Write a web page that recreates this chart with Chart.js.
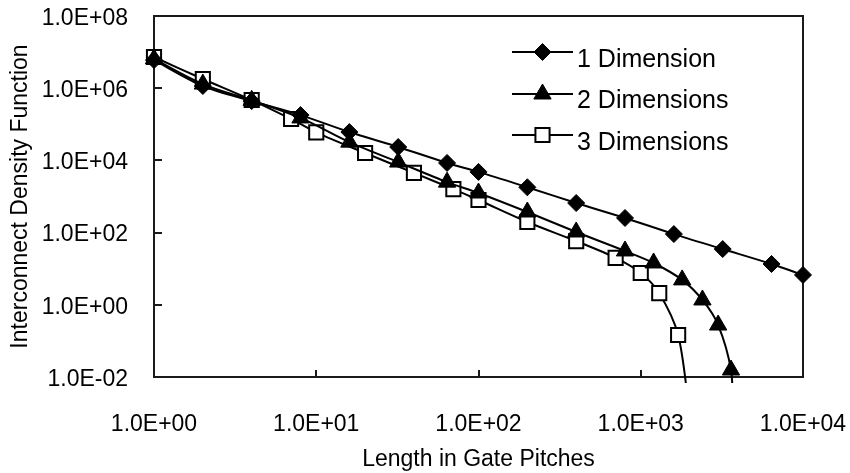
<!DOCTYPE html>
<html>
<head>
<meta charset="utf-8">
<script src="https://cdn.jsdelivr.net/npm/chart.js@4/dist/chart.umd.min.js"></script>
<style>
  html, body { margin: 0; padding: 0; background: #ffffff; }
  canvas { display: block; }
</style>
</head>
<body>
<canvas id="c" width="850" height="473"></canvas>
<script>
// ---------- data ----------
const seriesLabels = ['1 Dimension', '2 Dimensions', '3 Dimensions'];

const x1D = [1, 2, 4, 8, 16, 32, 64, 100, 200, 400, 800, 1600, 3200, 6400, 10000];
const y1D = [6.0e6, 1.15e6, 4.4e5, 1.8e5, 6.1e4, 2.35e4, 8.5e3, 4.8e3, 1.8e3, 660, 254, 91, 35, 13.5, 6.7];

const x2D = [1, 2, 4, 8, 16, 32, 64, 100, 200, 400, 800, 1200, 1800, 2400, 3000, 3600];
const y2D = [6.5e6, 1.3e6, 4.6e5, 1.5e5, 3.2e4, 9.0e3, 2.5e3, 1.25e3, 372, 104, 31, 14.4, 4.9, 1.36, 0.275, 0.0156];
// the smoothed 2D curve continues below the axis floor
const x2DBelow = [3700];
const y2DBelow = [1e-3];

const x3D = [1, 2, 4, 7, 10, 20, 40, 70, 100, 200, 400, 700, 1000, 1300, 1700];
const y3D = [7.3e6, 1.8e6, 4.7e5, 1.4e5, 6.0e4, 1.6e4, 4.5e3, 1.6e3, 800, 197, 58, 20, 7.6, 2.1, 0.146];
// the smoothed 3D curve continues below the axis floor
const x3DBelow = [2000];
const y3DBelow = [1e-3];

const xTickValues = [1, 10, 100, 1000, 10000];
const xTickLabels = ['1.0E+00', '1.0E+01', '1.0E+02', '1.0E+03', '1.0E+04'];
const yTickValues = [1e-2, 1, 1e2, 1e4, 1e6, 1e8];
const yTickLabels = ['1.0E-02', '1.0E+00', '1.0E+02', '1.0E+04', '1.0E+06', '1.0E+08'];

const xTitle = 'Length in Gate Pitches';
const yTitle = 'Interconnect Density Function';

// ---------- helpers ----------
function toPoints(xs, ys) { return xs.map((x, i) => ({ x: x, y: ys[i] })); }

const FONT = '"Liberation Sans", Arial, Helvetica, sans-serif';
const INK = '#000000';
const CLIP = { left: 14, right: 14, top: 14, bottom: 6 };

const markerStyles = [
  { pointStyle: 'rectRot', radius: 8.5, fill: '#000000', borderWidth: 1 },
  { pointStyle: 'triangle', radius: 10, fill: '#000000', borderWidth: 1 },
  { pointStyle: 'rect', radius: 10, fill: '#ffffff', borderWidth: 2 }
];

function makeDataset(i, pts, nVisible) {
  const m = markerStyles[i];
  return {
    label: seriesLabels[i],
    data: pts,
    borderColor: INK,
    borderWidth: 2,
    backgroundColor: m.fill,
    pointStyle: m.pointStyle,
    pointRadius: (ctx) => (ctx.dataIndex < nVisible ? m.radius : 0),
    pointHoverRadius: (ctx) => (ctx.dataIndex < nVisible ? m.radius : 0),
    pointBackgroundColor: m.fill,
    pointBorderColor: INK,
    pointBorderWidth: m.borderWidth,
    tension: 0.3,
    fill: false,
    clip: CLIP
  };
}

// frame + inward tick marks
const framePlugin = {
  id: 'frame',
  beforeDatasetsDraw(chart) {
    const { ctx, chartArea: a, scales } = chart;
    ctx.save();
    ctx.strokeStyle = '#1a1a1a';
    ctx.lineWidth = 2;
    ctx.strokeRect(a.left, a.top, a.right - a.left, a.bottom - a.top);
    ctx.beginPath();
    yTickValues.forEach((v) => {
      const py = Math.round(scales.y.getPixelForValue(v));
      ctx.moveTo(a.left, py);
      ctx.lineTo(a.left + 8, py);
    });
    xTickValues.forEach((v) => {
      const px = Math.round(scales.x.getPixelForValue(v));
      ctx.moveTo(px, a.bottom);
      ctx.lineTo(px, a.bottom - 7);
    });
    ctx.stroke();
    ctx.restore();
  }
};

// legend inside the plot (line + marker + text)
const legendPlugin = {
  id: 'insideLegend',
  afterDraw(chart) {
    const { ctx } = chart;
    const lineX0 = 512, lineX1 = 573, textX = 577;
    const rowY = [52, 94, 135];
    const baseY = [66.5, 108, 149.5];
    ctx.save();
    chart.data.datasets.forEach((ds, i) => {
      const m = markerStyles[i];
      ctx.strokeStyle = INK;
      ctx.lineWidth = 2;
      ctx.beginPath();
      ctx.moveTo(lineX0, rowY[i]);
      ctx.lineTo(lineX1, rowY[i]);
      ctx.stroke();
      ctx.fillStyle = m.fill;
      ctx.strokeStyle = INK;
      ctx.lineWidth = m.borderWidth;
      Chart.helpers.drawPoint(ctx, {
        pointStyle: m.pointStyle, radius: m.radius, rotation: 0, borderWidth: m.borderWidth
      }, (lineX0 + lineX1) / 2, rowY[i]);
      ctx.fillStyle = INK;
      ctx.font = '25px ' + FONT;
      ctx.textAlign = 'left';
      ctx.textBaseline = 'alphabetic';
      ctx.fillText(ds.label, textX, baseY[i]);
    });
    ctx.restore();
  }
};

new Chart(document.getElementById('c'), {
  type: 'line',
  data: {
    datasets: [
      makeDataset(0, toPoints(x1D, y1D), x1D.length),
      makeDataset(1, toPoints(x2D.concat(x2DBelow), y2D.concat(y2DBelow)), x2D.length),
      makeDataset(2, toPoints(x3D.concat(x3DBelow), y3D.concat(y3DBelow)), x3D.length)
    ]
  },
  options: {
    responsive: false,
    animation: false,
    devicePixelRatio: 1,
    layout: { autoPadding: false, padding: { left: 0, top: 16, right: 47, bottom: 0 } },
    elements: { line: { capBezierPoints: false } },
    plugins: {
      legend: { display: false },
      tooltip: { enabled: false },
      title: { display: false }
    },
    scales: {
      x: {
        type: 'logarithmic',
        min: 1,
        max: 10000,
        grid: { display: false },
        border: { display: false },
        afterBuildTicks: (s) => { s.ticks = xTickValues.map((v) => ({ value: v })); },
        afterFit: (s) => { s.height = 96; s.paddingLeft = 0; s.paddingRight = 0; },
        ticks: {
          autoSkip: false,
          maxRotation: 0,
          padding: 26,
          color: INK,
          font: { family: FONT, size: 23 },
          callback: (v, i) => xTickLabels[i]
        },
        title: {
          display: true,
          text: xTitle,
          color: INK,
          font: { family: FONT, size: 23 },
          padding: { top: 0, bottom: 0 }
        }
      },
      y: {
        type: 'logarithmic',
        min: 1e-2,
        max: 1e8,
        grid: { display: false },
        border: { display: false },
        afterBuildTicks: (s) => { s.ticks = yTickValues.map((v) => ({ value: v })); },
        afterFit: (s) => { s.width = 154; s.paddingTop = 0; s.paddingBottom = 0; },
        ticks: {
          autoSkip: false,
          padding: 18,
          labelOffset: 2.5,
          color: INK,
          font: { family: FONT, size: 23 },
          callback: (v, i) => yTickLabels[i]
        },
        title: {
          display: true,
          text: yTitle,
          color: INK,
          font: { family: FONT, size: 23 },
          padding: { top: 7, bottom: 0 }
        }
      }
    }
  },
  plugins: [framePlugin, legendPlugin]
});
</script>
</body>
</html>
